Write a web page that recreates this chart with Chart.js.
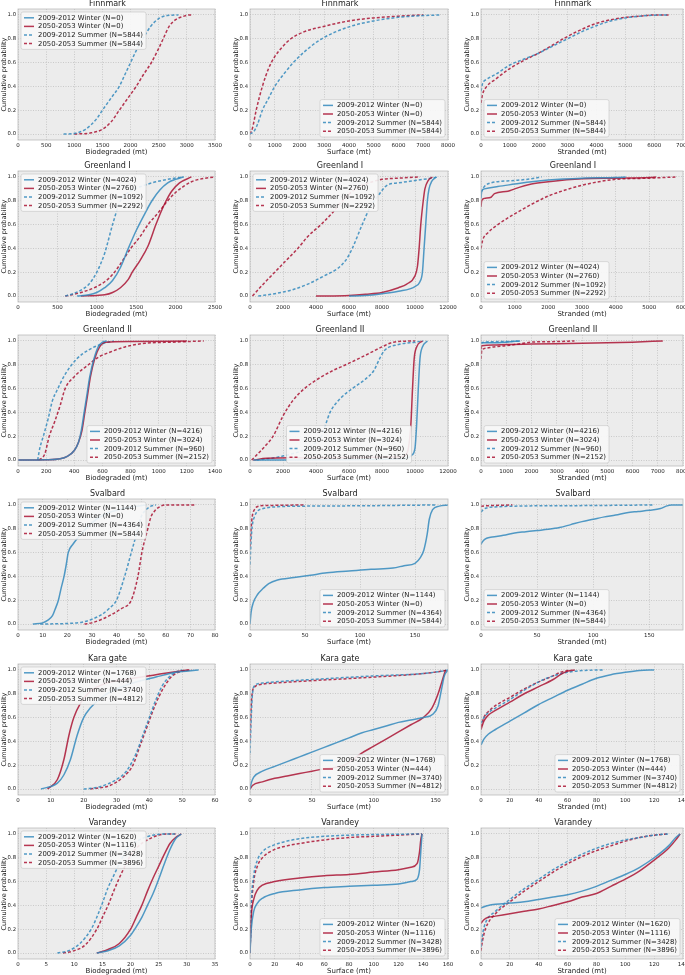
<!DOCTYPE html>
<html>
<head>
<meta charset="utf-8">
<script src="https://cdn.jsdelivr.net/npm/chart.js@4.4.0/dist/chart.umd.min.js"></script>
<style>
html, body { margin: 0; padding: 0; background: #fff; width: 685px; height: 975px; overflow: hidden; position: relative; }
.panel { position: absolute; }
</style>
</head>
<body>
<script>
var blue = 'rgba(52,138,189,0.85)';
var red = 'rgba(166,6,40,0.8)';
var fontFamily = '"DejaVu Sans", sans-serif';

var sites = ['Finnmark', 'Greenland I', 'Greenland II', 'Svalbard', 'Kara gate', 'Varandey'];
var seriesNames = ['2009-2012 Winter', '2050-2053 Winter', '2009-2012 Summer', '2050-2053 Summer'];
var axisNames = ['Biodegraded (mt)', 'Surface (mt)', 'Stranded (mt)'];

// sample sizes per site, in series order
var nFinnmark = [0, 0, 5844, 5844];
var nGreenland1 = [4024, 2760, 1092, 2292];
var nGreenland2 = [4216, 3024, 960, 2152];
var nSvalbard = [1144, 0, 4364, 5844];
var nKara = [1768, 444, 3740, 4812];
var nVarandey = [1620, 1116, 3428, 3896];

// x axis ranges and tick steps (rows = sites)
var xMaxBio = [3500, 2500, 1400, 80, 60, 35];
var xStepBio = [500, 500, 200, 10, 10, 5];
var xMaxSur = [8000, 12000, 12000, 180, 160, 160];
var xStepSur = [1000, 2000, 2000, 50, 50, 20];
var xMaxStr = [7000, 6000, 8000, 180, 140, 140];
var xStepStr = [1000, 1000, 1000, 50, 20, 20];
var yTicks = [0, 0.2, 0.4, 0.6, 0.8, 1.0];

// Finnmark
var finBioS09 = [[810,0],[1000,0.005],[1200,0.04],[1400,0.13],[1500,0.2],[1650,0.3],[1800,0.4],[1900,0.5],[2000,0.6],[2100,0.7],[2220,0.8],[2350,0.9],[2500,0.97],[2650,0.995],[2850,1]];
var finBioS50 = [[1000,0],[1300,0.01],[1500,0.04],[1650,0.1],[1800,0.2],[1950,0.3],[2100,0.4],[2230,0.5],[2370,0.6],[2480,0.7],[2580,0.8],[2680,0.9],[2800,0.96],[2950,0.99],[3050,1],[3100,1]];
var finSurS09 = [[0,0],[150,0.02],[300,0.08],[500,0.2],[750,0.3],[1000,0.4],[1350,0.5],[1750,0.6],[2250,0.7],[2900,0.8],[4000,0.9],[5000,0.95],[6000,0.98],[7000,0.995],[7700,1]];
var finSurS50 = [[0,0],[100,0.05],[250,0.2],[500,0.4],[750,0.55],[1000,0.65],[1300,0.73],[1650,0.8],[2200,0.86],[2900,0.9],[4000,0.95],[5000,0.975],[6000,0.99],[7000,1]];
var finStrS09 = [[0,0.36],[50,0.42],[200,0.46],[500,0.5],[1000,0.58],[1500,0.63],[2000,0.68],[2500,0.74],[3000,0.8],[3500,0.86],[4000,0.91],[4500,0.95],[5000,0.975],[5500,0.99],[6000,0.998],[6500,1]];
var finStrS50 = [[0,0.26],[50,0.33],[200,0.4],[500,0.46],[1000,0.55],[1500,0.62],[2000,0.68],[2500,0.75],[3000,0.82],[3500,0.88],[4000,0.93],[4500,0.96],[5000,0.98],[5500,0.99],[6000,1],[6500,1]];

// Greenland I
var gr1BioW09 = [[750,0],[900,0.01],[1000,0.03],[1100,0.07],[1200,0.13],[1300,0.24],[1400,0.4],[1500,0.55],[1600,0.68],[1700,0.8],[1800,0.89],[1900,0.95],[2000,0.98],[2100,1]];
var gr1BioW50 = [[800,0],[1000,0.005],[1100,0.01],[1200,0.03],[1300,0.07],[1400,0.14],[1450,0.2],[1550,0.3],[1650,0.42],[1750,0.6],[1810,0.7],[1880,0.8],[1950,0.88],[2050,0.95],[2200,1]];
var gr1BioS09 = [[600,0],[700,0.02],[800,0.05],[900,0.1],[1000,0.2],[1100,0.36],[1200,0.6],[1300,0.8],[1400,0.87],[1560,0.92],[1700,0.95],[1900,0.98],[2100,1]];
var gr1BioS50 = [[600,0],[800,0.03],[1000,0.08],[1100,0.12],[1200,0.18],[1300,0.27],[1430,0.4],[1550,0.5],[1650,0.6],[1780,0.7],[1900,0.8],[2000,0.87],[2100,0.92],[2200,0.96],[2300,0.98],[2500,1]];
var gr1SurW09 = [[6000,0],[7000,0.005],[8000,0.02],[9000,0.04],[10000,0.08],[10300,0.12],[10450,0.2],[10550,0.4],[10650,0.6],[10750,0.8],[10850,0.9],[11000,0.96],[11300,1]];
var gr1SurW50 = [[4000,0],[6000,0.005],[7000,0.015],[8000,0.03],[9000,0.07],[9500,0.1],[10000,0.17],[10150,0.25],[10250,0.4],[10350,0.6],[10500,0.8],[10600,0.9],[10800,0.97],[11050,1]];
var gr1SurS09 = [[500,0],[1500,0.02],[2500,0.05],[3500,0.1],[4500,0.17],[5300,0.23],[5800,0.3],[6200,0.4],[6800,0.6],[7300,0.75],[7800,0.85],[8300,0.93],[9000,0.95],[10000,0.97],[11000,0.99],[11400,1]];
var gr1SurS50 = [[150,0],[800,0.1],[1500,0.2],[2200,0.3],[2900,0.4],[3500,0.5],[4300,0.6],[5000,0.7],[5600,0.8],[6400,0.9],[7200,0.95],[8000,0.98],[9000,0.99],[10300,1]];
var gr1StrW09 = [[0,0.82],[20,0.88],[100,0.9],[500,0.92],[1000,0.94],[1500,0.96],[2000,0.975],[3000,0.99],[4000,0.995],[4300,1]];
var gr1StrW50 = [[0,0.75],[20,0.8],[100,0.82],[300,0.83],[400,0.86],[800,0.88],[1000,0.9],[1500,0.94],[2000,0.96],[3000,0.985],[4000,0.99],[5000,0.995],[5200,1]];
var gr1StrS09 = [[0,0.87],[100,0.92],[300,0.95],[1000,0.97],[1500,0.985],[1800,1]];
var gr1StrS50 = [[0,0.4],[50,0.47],[200,0.53],[500,0.6],[1000,0.69],[1500,0.77],[2000,0.84],[2500,0.89],[3000,0.93],[3500,0.96],[4000,0.98],[5000,0.99],[5800,1]];

// Greenland II
var gr2BioW09 = [[0,0],[200,0.002],[300,0.01],[350,0.03],[400,0.08],[430,0.15],[450,0.25],[470,0.4],[490,0.55],[510,0.7],[540,0.85],[570,0.95],[600,0.99],[630,1]];
var gr2BioW50 = [[0,0],[200,0.002],[300,0.01],[350,0.03],[400,0.08],[430,0.15],[455,0.25],[475,0.4],[495,0.55],[515,0.7],[545,0.85],[580,0.95],[620,0.99],[800,0.995],[1200,1]];
var gr2BioS09 = [[140,0],[155,0.1],[180,0.2],[215,0.35],[245,0.5],[275,0.58],[335,0.72],[418,0.85],[510,0.93],[610,0.98],[680,1]];
var gr2BioS50 = [[150,0],[190,0.05],[222,0.2],[260,0.32],[300,0.46],[335,0.6],[400,0.7],[500,0.8],[580,0.87],[640,0.9],[760,0.95],[900,0.98],[1100,0.99],[1320,1]];
var gr2SurW09 = [[200,0],[5000,0.003],[9000,0.008],[9500,0.015],[9800,0.04],[10000,0.1],[10100,0.3],[10200,0.6],[10300,0.85],[10450,0.95],[10750,1]];
var gr2SurW50 = [[200,0],[1000,0.015],[3000,0.02],[6000,0.022],[9000,0.025],[9400,0.04],[9600,0.1],[9750,0.3],[9850,0.6],[9950,0.85],[10100,0.95],[10450,1]];
var gr2SurS09 = [[400,0],[1500,0.02],[2500,0.05],[3500,0.1],[4000,0.15],[4330,0.2],[4850,0.4],[5500,0.52],[6200,0.6],[7000,0.68],[7500,0.75],[7850,0.85],[8150,0.92],[9000,0.97],[10000,0.99],[10500,1]];
var gr2SurS50 = [[100,0],[600,0.07],[1000,0.13],[1400,0.2],[2000,0.37],[2600,0.5],[3300,0.6],[4000,0.67],[5000,0.75],[5800,0.8],[7000,0.88],[8000,0.95],[8700,0.99],[10000,1]];
var gr2StrW09 = [[0,0.99],[50,0.985],[500,0.985],[1000,0.99],[1550,1]];
var gr2StrW50 = [[0,0.93],[30,0.96],[500,0.965],[1000,0.97],[2000,0.975],[4000,0.98],[6000,0.99],[7200,1]];
var gr2StrS09 = [[0,0.98],[100,0.99],[1000,0.995],[1500,1]];
var gr2StrS50 = [[0,0.85],[30,0.92],[200,0.94],[500,0.95],[1000,0.96],[1500,0.975],[2000,0.99],[3000,0.995],[3700,1]];

// Svalbard
var svaBioW09 = [[6,0],[10,0.01],[12,0.03],[14,0.07],[15,0.12],[16.4,0.2],[17.5,0.3],[18.7,0.4],[19.6,0.5],[20.4,0.6],[22.3,0.67],[25,0.74],[30,0.85],[35,0.92],[39,0.95],[45,0.98],[52,1]];
var svaBioS09 = [[9,0],[20,0.005],[26,0.015],[30,0.04],[34,0.08],[37,0.13],[40,0.2],[43.3,0.4],[46,0.6],[48.7,0.8],[50,0.9],[52,0.96],[54,0.99],[56,1]];
var svaBioS50 = [[27,0],[30,0.01],[34,0.04],[38,0.08],[42,0.13],[46,0.2],[48.7,0.4],[50.3,0.6],[52.7,0.8],[54,0.9],[55.5,0.95],[58,0.99],[60,1],[72,1]];
var svaSurW09 = [[0,0],[1,0.1],[3,0.18],[7,0.25],[12,0.3],[17,0.34],[25,0.37],[40,0.39],[55,0.41],[70,0.43],[90,0.445],[110,0.46],[130,0.47],[140,0.49],[150,0.51],[155,0.56],[158,0.62],[161,0.75],[163,0.88],[166,0.96],[172,0.99],[180,1]];
var svaSurS09 = [[0,0.5],[1,0.7],[2,0.82],[4,0.9],[7,0.95],[12,0.97],[25,0.985],[50,0.99],[100,0.993],[170,1]];
var svaSurS50 = [[0,0.65],[1,0.8],[2,0.9],[4,0.96],[8,0.99],[15,0.995],[50,1]];
var svaStrW09 = [[0,0.67],[2,0.7],[5,0.72],[10,0.73],[20,0.745],[30,0.765],[40,0.775],[50,0.785],[60,0.795],[70,0.81],[80,0.835],[90,0.86],[100,0.88],[110,0.9],[120,0.915],[130,0.935],[140,0.945],[150,0.955],[160,0.97],[165,0.99],[170,1],[180,1]];
var svaStrS09 = [[0,0.94],[2,0.96],[5,0.975],[15,0.985],[30,0.99],[100,0.995],[153,1]];
var svaStrS50 = [[0,0.99],[10,0.995],[28,1]];

// Kara gate
var karBioW09 = [[7,0],[12,0.05],[14,0.12],[16,0.25],[18,0.45],[20,0.6],[22,0.68],[26,0.78],[30,0.84],[35,0.89],[42,0.94],[48,0.98],[55,1]];
var karBioW50 = [[9,0],[12,0.08],[14,0.25],[15.5,0.45],[17,0.6],[19,0.72],[22,0.82],[27,0.89],[35,0.93],[42,0.96],[48,0.985],[52,1]];
var karBioS09 = [[20,0],[25,0.02],[30,0.08],[33,0.15],[36,0.3],[38,0.45],[40,0.6],[42,0.75],[44,0.87],[46,0.94],[48,0.98],[50,1]];
var karBioS50 = [[22,0],[28,0.03],[32,0.1],[35,0.2],[37,0.35],[39,0.5],[41,0.65],[43,0.78],[45,0.88],[47,0.95],[50,0.99],[53,1]];
var karSurW09 = [[0,0],[1,0.05],[3,0.1],[10,0.15],[20,0.19],[30,0.23],[40,0.27],[50,0.31],[60,0.35],[70,0.39],[80,0.43],[90,0.47],[100,0.5],[110,0.53],[120,0.56],[130,0.58],[140,0.6],[148,0.63],[152,0.7],[155,0.85],[157,0.95],[160,1]];
var karSurW50 = [[0,0],[2,0.03],[10,0.06],[20,0.09],[30,0.11],[40,0.13],[50,0.15],[60,0.17],[76,0.2],[90,0.3],[100,0.36],[110,0.42],[120,0.48],[130,0.54],[140,0.6],[147,0.68],[152,0.8],[155,0.9],[158,1]];
var karSurS09 = [[0,0.3],[1,0.6],[2,0.8],[4,0.87],[10,0.89],[20,0.9],[50,0.92],[100,0.95],[140,0.97],[155,0.99],[160,1]];
var karSurS50 = [[0,0.4],[1,0.7],[2,0.82],[4,0.86],[10,0.88],[20,0.89],[50,0.91],[100,0.94],[140,0.97],[155,0.99],[160,1]];
var karStrW09 = [[0,0.37],[2,0.42],[5,0.46],[10,0.5],[20,0.57],[30,0.64],[40,0.71],[50,0.77],[60,0.83],[70,0.88],[80,0.93],[90,0.96],[100,0.98],[110,0.995],[120,1]];
var karStrW50 = [[0,0.5],[2,0.57],[5,0.62],[10,0.66],[20,0.73],[30,0.8],[40,0.86],[50,0.92],[55,0.96],[60,0.99],[65,1]];
var karStrS09 = [[0,0.55],[2,0.6],[5,0.64],[10,0.68],[20,0.75],[30,0.83],[40,0.9],[50,0.95],[60,0.98],[70,0.995],[85,1]];
var karStrS50 = [[0,0.52],[2,0.6],[5,0.65],[10,0.7],[20,0.77],[30,0.84],[40,0.9],[50,0.95],[55,0.98],[62,1]];

// Varandey
var varBioW09 = [[14,0],[16,0.02],[18,0.06],[20,0.15],[21,0.22],[22,0.3],[23,0.4],[24,0.5],[25,0.62],[26,0.75],[27,0.87],[28,0.96],[29,1]];
var varBioW50 = [[14,0],[16,0.03],[18,0.08],[20,0.2],[21,0.3],[22,0.4],[23,0.52],[24,0.63],[25,0.73],[26,0.83],[27,0.92],[28,0.97],[29,1]];
var varBioS09 = [[7,0],[9,0.02],[11,0.08],[13,0.2],[14,0.3],[15,0.42],[16,0.55],[17,0.65],[18,0.75],[19,0.84],[20,0.9],[22,0.96],[24,0.99],[26,1],[28,1]];
var varBioS50 = [[8,0],[10,0.02],[12,0.07],[14,0.2],[15,0.3],[16,0.4],[17,0.52],[18,0.63],[19,0.73],[20,0.82],[21,0.88],[23,0.95],[25,0.99],[27,1],[28,1]];
var varSurW09 = [[0,0],[1,0.2],[3,0.35],[6,0.42],[10,0.46],[20,0.5],[40,0.53],[60,0.55],[80,0.56],[100,0.57],[120,0.58],[130,0.6],[135,0.62],[137,0.7],[138,0.85],[139,1]];
var varSurW50 = [[0,0],[1,0.3],[3,0.45],[6,0.53],[10,0.57],[20,0.6],[40,0.63],[60,0.65],[80,0.66],[100,0.68],[120,0.7],[130,0.72],[135,0.75],[137,0.85],[138,0.95],[139,1]];
var varSurS09 = [[0,0],[1,0.4],[3,0.65],[6,0.78],[10,0.85],[20,0.91],[30,0.94],[40,0.96],[60,0.98],[80,0.99],[100,0.995],[139,1]];
var varSurS50 = [[0,0],[1,0.35],[3,0.6],[6,0.73],[10,0.8],[20,0.87],[30,0.9],[40,0.92],[60,0.95],[80,0.97],[100,0.98],[120,0.99],[139,1]];
var varStrW09 = [[0,0.38],[5,0.4],[10,0.41],[20,0.42],[30,0.43],[40,0.45],[50,0.47],[60,0.49],[70,0.52],[80,0.56],[90,0.61],[100,0.66],[110,0.72],[120,0.8],[130,0.9],[135,0.97],[138,1]];
var varStrW50 = [[0,0.25],[2,0.28],[5,0.3],[10,0.31],[20,0.33],[30,0.35],[40,0.37],[50,0.4],[60,0.43],[70,0.47],[80,0.5],[90,0.56],[100,0.62],[110,0.69],[120,0.78],[130,0.88],[135,0.95],[138,1]];
var varStrS09 = [[0,0.05],[1,0.15],[3,0.25],[10,0.35],[20,0.45],[30,0.54],[40,0.62],[50,0.7],[60,0.77],[70,0.83],[80,0.88],[90,0.92],[100,0.95],[110,0.97],[120,0.99],[130,1]];
var varStrS50 = [[0,0.02],[1,0.1],[3,0.2],[10,0.33],[20,0.43],[30,0.52],[40,0.6],[50,0.68],[60,0.75],[70,0.81],[80,0.86],[90,0.9],[100,0.94],[110,0.97],[120,0.99],[130,1]];

var sampleSizes = [nFinnmark, nGreenland1, nGreenland2, nSvalbard, nKara, nVarandey];
var curves = [
    [[[], [], finBioS09, finBioS50], [[], [], finSurS09, finSurS50], [[], [], finStrS09, finStrS50]],
    [[gr1BioW09, gr1BioW50, gr1BioS09, gr1BioS50], [gr1SurW09, gr1SurW50, gr1SurS09, gr1SurS50], [gr1StrW09, gr1StrW50, gr1StrS09, gr1StrS50]],
    [[gr2BioW09, gr2BioW50, gr2BioS09, gr2BioS50], [gr2SurW09, gr2SurW50, gr2SurS09, gr2SurS50], [gr2StrW09, gr2StrW50, gr2StrS09, gr2StrS50]],
    [[svaBioW09, [], svaBioS09, svaBioS50], [svaSurW09, [], svaSurS09, svaSurS50], [svaStrW09, [], svaStrS09, svaStrS50]],
    [[karBioW09, karBioW50, karBioS09, karBioS50], [karSurW09, karSurW50, karSurS09, karSurS50], [karStrW09, karStrW50, karStrS09, karStrS50]],
    [[varBioW09, varBioW50, varBioS09, varBioS50], [varSurW09, varSurW50, varSurS09, varSurS50], [varStrW09, varStrW50, varStrS09, varStrS50]]
];
var xMaxes = [xMaxBio, xMaxSur, xMaxStr];
var xSteps = [xStepBio, xStepSur, xStepStr];

// layout
var legendCorner = [
    ['ul', 'lr', 'll'],
    ['ul', 'ul', 'll'],
    ['lr', 'lc', 'll'],
    ['ul', 'lr', 'll'],
    ['ul', 'lr', 'lr'],
    ['ul', 'lr', 'lr']
];
var colLeft = [18, 250, 481];
var colRight = [215, 448, 683];
var rowTop = [9, 171, 335, 499, 664, 828];
var plotH = 131;
var YW = 18, TH = 12, XH = 17, PADR = 12;

var lineColors = [blue, red, blue, red];
var lineDash = [[], [], [3, 2], [3, 2]];

function legendPlugin(corner, labels) {
    return {
        id: 'cornerLegend',
        afterDatasetsDraw: function(chart) {
            var ctx = chart.ctx;
            var a = chart.chartArea;
            ctx.save();
            ctx.font = '6.9px ' + fontFamily;
            var tw = 0;
            for (var i = 0; i < labels.length; i++) {
                tw = Math.max(tw, ctx.measureText(labels[i]).width);
            }
            var rowH = 8.6, pad = 3, sample = 10, gap = 4;
            var w = pad + sample + gap + tw + pad;
            var h = rowH * labels.length + 3;
            var x, y;
            if (corner[1] === 'l') x = a.left + 3;
            else if (corner[1] === 'r') x = a.right - 3 - w;
            else x = (a.left + a.right) / 2 - w / 2;
            if (corner[0] === 'u') y = a.top + 3;
            else y = a.bottom - 3 - h;

            ctx.beginPath();
            if (ctx.roundRect) ctx.roundRect(x, y, w, h, 2);
            else ctx.rect(x, y, w, h);
            ctx.fillStyle = 'rgba(248,248,248,0.9)';
            ctx.fill();
            ctx.lineWidth = 0.6;
            ctx.strokeStyle = '#c4c4c4';
            ctx.stroke();

            for (var j = 0; j < labels.length; j++) {
                var cy = y + 1.5 + rowH * (j + 0.5);
                ctx.beginPath();
                ctx.setLineDash(lineDash[j]);
                ctx.strokeStyle = lineColors[j];
                ctx.lineWidth = 1.5;
                ctx.moveTo(x + pad, cy);
                ctx.lineTo(x + pad + sample, cy);
                ctx.stroke();
                ctx.setLineDash([]);
                ctx.fillStyle = '#222';
                ctx.textBaseline = 'middle';
                ctx.textAlign = 'left';
                ctx.fillText(labels[j], x + pad + sample + gap, cy + 0.3);
            }
            ctx.restore();
        }
    };
}

var areaPlugin = {
    id: 'plotArea',
    beforeDraw: function(chart) {
        var a = chart.chartArea;
        var ctx = chart.ctx;
        ctx.save();
        ctx.fillStyle = '#ececec';
        ctx.fillRect(a.left, a.top, a.right - a.left, a.bottom - a.top);
        ctx.restore();
    },
    afterDraw: function(chart) {
        var a = chart.chartArea;
        var ctx = chart.ctx;
        ctx.save();
        ctx.strokeStyle = '#bcbcbc';
        ctx.lineWidth = 0.8;
        ctx.strokeRect(a.left, a.top, a.right - a.left, a.bottom - a.top);
        ctx.restore();
    }
};

function makeTicks(max, step) {
    var t = [];
    for (var v = 0; v <= max + 1e-9; v += step) t.push({ value: v });
    return t;
}

function drawPanel(row, col) {
    var plotW = colRight[col] - colLeft[col];
    var w = YW + plotW + PADR;
    var h = TH + plotH + XH;
    var div = document.createElement('div');
    div.className = 'panel';
    div.style.left = (colLeft[col] - YW) + 'px';
    div.style.top = (rowTop[row] - TH) + 'px';
    var canvas = document.createElement('canvas');
    canvas.width = w;
    canvas.height = h;
    canvas.style.width = w + 'px';
    canvas.style.height = h + 'px';
    div.appendChild(canvas);
    document.body.appendChild(div);

    var ns = sampleSizes[row];
    var labels = [];
    for (var i = 0; i < 4; i++) labels.push(seriesNames[i] + ' (N=' + ns[i] + ')');

    var datasets = [];
    var set = curves[row][col];
    for (var k = 0; k < 4; k++) {
        datasets.push({
            label: labels[k],
            data: set[k].map(function(p) { return { x: p[0], y: p[1] }; }),
            borderColor: lineColors[k],
            borderWidth: 1.5,
            borderDash: lineDash[k],
            pointRadius: 0,
            fill: false,
            cubicInterpolationMode: 'monotone'
        });
    }

    var xMax = xMaxes[col][row];
    var xStep = xSteps[col][row];

    new Chart(canvas.getContext('2d'), {
        type: 'line',
        data: { datasets: datasets },
        options: {
            responsive: false,
            animation: false,
            layout: { padding: { left: 0, right: PADR, top: 0, bottom: 0 } },
            plugins: {
                legend: { display: false },
                tooltip: { enabled: false },
                title: {
                    display: true,
                    text: sites[row],
                    color: '#222',
                    font: { family: fontFamily, size: 8, weight: 'normal', lineHeight: 1.2 },
                    padding: { top: 2.4, bottom: 0 }
                }
            },
            scales: {
                x: {
                    type: 'linear',
                    min: 0,
                    max: xMax,
                    afterBuildTicks: function(s) { s.ticks = makeTicks(xMax, xStep); },
                    afterFit: function(s) { s.height = XH; s.paddingLeft = 0; s.paddingRight = 0; },
                    grid: { color: '#b4b4b4', lineWidth: 0.6, drawTicks: false },
                    border: { display: false, dash: [1, 1.5] },
                    ticks: {
                        color: '#222',
                        padding: 2,
                        maxRotation: 0,
                        autoSkip: false,
                        font: { family: fontFamily, size: 5.5 },
                        callback: function(v) { return String(v); }
                    },
                    title: {
                        display: true,
                        text: axisNames[col],
                        color: '#222',
                        font: { family: fontFamily, size: 7, lineHeight: 1.2 },
                        padding: { top: 0, bottom: 0.5 }
                    }
                },
                y: {
                    type: 'linear',
                    min: -0.05,
                    max: 1.05,
                    afterBuildTicks: function(s) { s.ticks = yTicks.map(function(v) { return { value: v }; }); },
                    afterFit: function(s) { s.width = YW; },
                    grid: { color: '#b4b4b4', lineWidth: 0.6, drawTicks: false },
                    border: { display: false, dash: [1, 1.5] },
                    ticks: {
                        color: '#222',
                        padding: 2,
                        font: { family: fontFamily, size: 5.3 },
                        callback: function(v) { return v.toFixed(1); }
                    },
                    title: {
                        display: true,
                        text: 'Cumulative probability',
                        color: '#222',
                        font: { family: fontFamily, size: 6.5, lineHeight: 1.2 },
                        padding: { top: 0.2, bottom: 0 }
                    }
                }
            }
        },
        plugins: [areaPlugin, legendPlugin(legendCorner[row][col], labels)]
    });
}

window.onload = function() {
    for (var r = 0; r < sites.length; r++) {
        for (var c = 0; c < 3; c++) {
            drawPanel(r, c);
        }
    }
};
</script>
</body>
</html>
